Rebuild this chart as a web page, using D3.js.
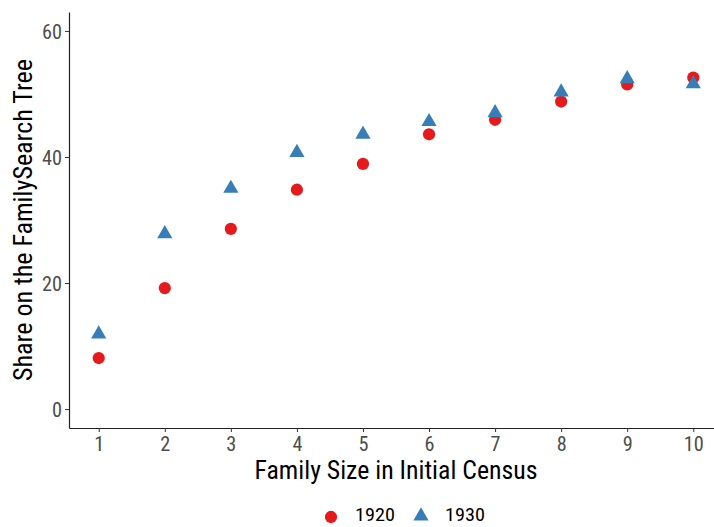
<!DOCTYPE html>
<html><head><meta charset="utf-8">
<script src="https://cdn.jsdelivr.net/npm/d3@7"></script>
<style>body{margin:0;background:#fff}svg{display:block}</style>
</head><body>
<svg id="c" width="714" height="527"></svg>
<script>
const familySize = [1,2,3,4,5,6,7,8,9,10];
const share1920 = [8.1,19.2,28.6,34.8,38.9,43.6,45.9,48.8,51.5,52.6];
const share1930 = [11.9,27.8,35.0,40.7,43.6,45.6,47.0,50.3,52.4,51.6];
const seriesNames = ["1920","1930"];
const yTicks = [0,20,40,60];
const xTicks = [1,2,3,4,5,6,7,8,9,10];

(function(){
const svg = d3.select("#c");
const pL = 69, pR = 723, pT = 12, pB = 428;
const x = d3.scaleLinear().domain([0.55,10.45]).range([pL,pR]);
const y = d3.scaleLinear().domain([-3,63]).range([pB,pT]);
const font = "'Roboto Condensed','Liberation Sans Narrow',Roboto,sans-serif";

const xa = svg.append("g").attr("transform",`translate(0,${pB})`)
  .call(d3.axisBottom(x).tickValues(xTicks).tickSize(4).tickPadding(4).tickSizeOuter(0));
const ya = svg.append("g").attr("transform",`translate(${pL},0)`)
  .call(d3.axisLeft(y).tickValues(yTicks).tickSize(4).tickPadding(3).tickSizeOuter(0));
[xa,ya].forEach(a=>{
  a.select(".domain").attr("stroke","#222").attr("stroke-width",1.2);
  a.selectAll(".tick line").attr("stroke","#333").attr("stroke-width",1);
  a.selectAll(".tick text").attr("fill","#4d4d4d").attr("font-family",font).attr("font-size",20)
    .attr("textLength",function(){return 10*this.textContent.length;}).attr("lengthAdjust","spacingAndGlyphs");
});
ya.selectAll(".tick text").attr("dy","0.36em");
xa.selectAll(".tick text").attr("dy","0").attr("y",23);

const colors = ["#E41A1C","#377EB8"];
const circ = d3.symbol().type(d3.symbolCircle).size(118);
const tri = d3.symbol().type(d3.symbolTriangle).size(100);

svg.append("g").selectAll("path").data(familySize).join("path")
  .attr("d",circ).attr("fill",colors[0])
  .attr("transform",(d,i)=>`translate(${x(d)},${y(share1920[i])})`);
svg.append("g").selectAll("path").data(familySize).join("path")
  .attr("d",tri).attr("fill",colors[1])
  .attr("transform",(d,i)=>`translate(${x(d)},${y(share1930[i])})`);

svg.append("text").attr("x",(pL+pR)/2).attr("y",479).attr("text-anchor","middle")
  .attr("font-family",font).attr("font-size",25).attr("fill","#000")
  .attr("textLength",283).attr("lengthAdjust","spacingAndGlyphs")
  .text("Family Size in Initial Census");
svg.append("text").attr("transform",`translate(32,${(pT+pB)/2}) rotate(-90)`).attr("text-anchor","middle")
  .attr("font-family",font).attr("font-size",25).attr("fill","#000")
  .attr("textLength",322).attr("lengthAdjust","spacingAndGlyphs")
  .text("Share on the FamilySearch Tree");

const lg = svg.append("g");
lg.append("path").attr("d",circ).attr("fill",colors[0]).attr("transform","translate(331,517)");
lg.append("text").attr("x",355).attr("y",521).attr("font-family",font).attr("font-size",19)
  .attr("textLength",40).attr("lengthAdjust","spacingAndGlyphs").text(seriesNames[0]);
lg.append("path").attr("d",tri).attr("fill",colors[1]).attr("transform","translate(421,516)");
lg.append("text").attr("x",445).attr("y",521).attr("font-family",font).attr("font-size",19)
  .attr("textLength",40).attr("lengthAdjust","spacingAndGlyphs").text(seriesNames[1]);
})();
</script>
</body></html>
